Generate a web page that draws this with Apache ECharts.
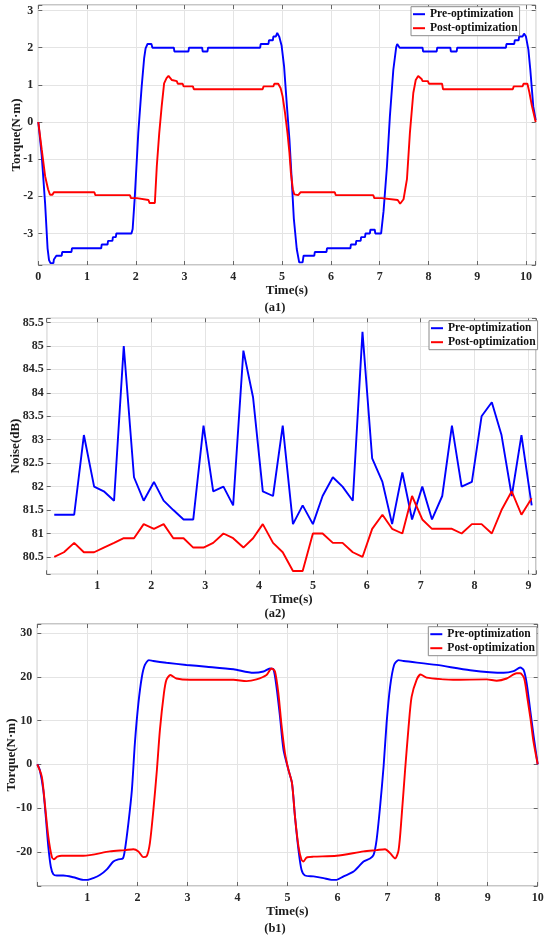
<!DOCTYPE html>
<html><head><meta charset="utf-8">
<script src="https://cdn.jsdelivr.net/npm/echarts@6/dist/echarts.min.js"></script>
<style>html,body{margin:0;padding:0;background:#fff}#c{width:550px;height:939px}</style>
</head><body><div id="c"></div>
<script>
const seriesNames = ['Pre-optimization', 'Post-optimization'];

// (a1) torque, [time, value]
const a1Pre = [[0,0],[0.07,-0.9],[0.14,-2.2],[0.19,-3.4],[0.22,-3.72],[0.25,-3.8],[0.31,-3.8],[0.32,-3.7],[0.36,-3.7],[0.37,-3.6],[0.48,-3.6],[0.49,-3.5],[0.68,-3.5],[0.69,-3.4],[1.29,-3.4],[1.3,-3.3],[1.42,-3.3],[1.43,-3.2],[1.52,-3.2],[1.53,-3.1],[1.59,-3.1],[1.6,-3.0],[1.91,-3.0],[1.935,-2.88],[1.98,-1.99],[2.05,-0.3],[2.12,0.96],[2.17,1.71],[2.2,1.98],[2.24,2.1],[2.32,2.1],[2.34,2.0],[2.78,2.0],[2.79,1.9],[3.08,1.9],[3.09,2.0],[3.36,2.0],[3.37,1.9],[3.47,1.9],[3.48,2.0],[4.55,2.0],[4.56,2.1],[4.72,2.1],[4.73,2.2],[4.81,2.2],[4.82,2.3],[4.87,2.3],[4.9,2.4],[4.94,2.3],[4.99,2.05],[5.04,1.5],[5.1,0.4],[5.15,-0.47],[5.2,-1.63],[5.24,-2.6],[5.3,-3.42],[5.35,-3.78],[5.42,-3.78],[5.44,-3.6],[5.66,-3.6],[5.67,-3.5],[5.91,-3.5],[5.92,-3.4],[6.4,-3.4],[6.41,-3.3],[6.51,-3.3],[6.52,-3.2],[6.61,-3.2],[6.62,-3.1],[6.7,-3.1],[6.71,-3.0],[6.8,-3.0],[6.81,-2.9],[6.9,-2.9],[6.91,-3.0],[7.03,-3.0],[7.08,-2.4],[7.15,-1.19],[7.21,0.15],[7.28,1.4],[7.34,2.02],[7.36,2.1],[7.4,2.1],[7.41,2.0],[7.88,2.0],[7.89,1.9],[8.17,1.9],[8.18,2.0],[8.45,2.0],[8.46,1.9],[8.58,1.9],[8.59,2.0],[9.59,2.0],[9.6,2.1],[9.76,2.1],[9.77,2.2],[9.85,2.2],[9.86,2.3],[9.93,2.3],[9.96,2.38],[10.0,2.3],[10.05,1.95],[10.09,1.4],[10.15,0.42],[10.2,0.05]];
const a1Post = [[0,0],[0.07,-0.74],[0.14,-1.46],[0.2,-1.81],[0.24,-1.96],[0.29,-1.96],[0.32,-1.89],[1.15,-1.89],[1.17,-1.97],[1.88,-1.97],[1.9,-2.05],[2.02,-2.05],[2.04,-2.1],[2.26,-2.1],[2.28,-2.18],[2.39,-2.18],[2.43,-1.19],[2.48,-0.3],[2.53,0.42],[2.58,1.04],[2.63,1.18],[2.67,1.24],[2.74,1.13],[2.76,1.1],[2.84,1.1],[2.86,1.03],[2.96,1.03],[2.98,0.96],[3.17,0.96],[3.19,0.88],[4.6,0.88],[4.62,0.96],[4.82,0.96],[4.84,1.03],[4.92,1.03],[4.97,0.91],[5.01,0.69],[5.06,0.24],[5.11,-0.3],[5.15,-0.83],[5.18,-1.37],[5.22,-1.81],[5.25,-1.95],[5.33,-1.97],[5.38,-1.89],[6.08,-1.89],[6.1,-1.97],[6.87,-1.97],[6.89,-2.05],[7.04,-2.05],[7.06,-2.1],[7.37,-2.1],[7.42,-2.2],[7.49,-2.08],[7.56,-1.54],[7.62,-0.3],[7.69,0.78],[7.74,1.13],[7.79,1.24],[7.86,1.16],[7.88,1.1],[7.99,1.1],[8.01,1.03],[8.28,1.03],[8.3,0.88],[9.73,0.88],[9.75,0.96],[9.93,0.96],[9.95,1.03],[10.03,1.03],[10.07,0.8],[10.12,0.45],[10.2,0]];

// (a2) noise
const noiseTime = [0.2,0.38,0.57,0.75,0.94,1.12,1.31,1.49,1.68,1.86,2.05,2.23,2.41,2.6,2.78,2.97,3.15,3.34,3.52,3.71,3.89,4.07,4.26,4.44,4.63,4.81,5.0,5.18,5.37,5.55,5.74,5.92,6.1,6.29,6.47,6.66,6.84,7.03,7.21,7.4,7.58,7.76,7.95,8.13,8.32,8.5,8.69,8.87,9.06];
const noisePre = [81.4,81.4,81.4,83.1,82.0,81.9,81.7,85.0,82.2,81.7,82.1,81.7,81.5,81.3,81.3,83.3,81.9,82.0,81.6,84.9,83.9,81.9,81.8,83.3,81.2,81.6,81.2,81.8,82.2,82.0,81.7,85.3,82.6,82.1,81.2,82.3,81.3,82.0,81.3,81.8,83.3,82.0,82.1,83.5,83.8,83.1,81.8,83.1,81.6];
const noisePost = [80.5,80.6,80.8,80.6,80.6,80.7,80.8,80.9,80.9,81.2,81.1,81.2,80.9,80.9,80.7,80.7,80.8,81.0,80.9,80.7,80.9,81.2,80.8,80.6,80.2,80.2,81.0,81.0,80.8,80.8,80.6,80.5,81.1,81.4,81.1,81.0,81.8,81.3,81.1,81.1,81.1,81.0,81.2,81.2,81.0,81.5,81.9,81.4,81.75];

// (b1) torque, [time, value]
const b1Pre = [[0,0],[0.05,-1.3],[0.12,-5.9],[0.17,-12],[0.22,-18.8],[0.27,-23.4],[0.32,-25.1],[0.39,-25.4],[0.52,-25.4],[0.72,-25.8],[0.92,-26.4],[1.0,-26.4],[1.12,-26.0],[1.25,-25.3],[1.39,-24.0],[1.52,-22.2],[1.62,-21.7],[1.71,-21.5],[1.75,-19.6],[1.82,-13.5],[1.89,-5.9],[1.95,4.8],[2.02,13.9],[2.09,20],[2.15,22.7],[2.23,23.8],[2.32,23.6],[2.58,23.2],[2.98,22.7],[3.38,22.3],[3.92,21.7],[4.32,20.9],[4.52,21.2],[4.65,21.9],[4.72,21.7],[4.78,17.7],[4.85,10.9],[4.92,3.3],[5.02,-1.3],[5.09,-4.3],[5.15,-12],[5.22,-19.6],[5.28,-24.1],[5.35,-25.4],[5.52,-25.6],[5.72,-26.0],[5.88,-26.4],[5.98,-26.4],[6.12,-25.6],[6.32,-24.5],[6.52,-22.2],[6.65,-21.5],[6.72,-20.7],[6.78,-17.3],[6.85,-9.7],[6.92,-0.5],[6.98,9.4],[7.05,17.7],[7.13,22.7],[7.22,23.8],[7.32,23.6],[7.98,22.7],[8.65,21.5],[9.32,20.9],[9.52,21.3],[9.65,22.1],[9.72,21.5],[9.78,18.5],[9.85,12.4],[9.92,6.3],[10.0,0]];
const b1Post = [[0,0],[0.09,-2.8],[0.15,-8.9],[0.22,-16.5],[0.29,-21.1],[0.33,-21.7],[0.4,-21.1],[0.49,-20.9],[0.92,-20.9],[1.45,-19.9],[1.75,-19.6],[1.92,-19.4],[2.02,-19.9],[2.12,-21.2],[2.19,-20.9],[2.25,-18.0],[2.32,-10.4],[2.39,-1.3],[2.45,7.8],[2.53,16.2],[2.58,19.3],[2.66,20.4],[2.78,19.6],[3.05,19.3],[3.92,19.3],[4.18,19.0],[4.38,19.4],[4.58,20.4],[4.68,21.9],[4.75,21.2],[4.82,16],[4.88,9],[4.95,2.5],[5.02,-1.3],[5.09,-4.3],[5.15,-12],[5.22,-18.8],[5.28,-21.8],[5.32,-22.2],[5.38,-21.3],[5.52,-21.1],[5.98,-20.9],[6.52,-19.9],[6.78,-19.6],[6.95,-19.4],[7.05,-20.3],[7.15,-21.5],[7.22,-19.6],[7.28,-12],[7.35,-1.3],[7.42,8.6],[7.48,15.4],[7.58,19.3],[7.66,20.5],[7.78,19.8],[8.12,19.4],[8.31,19.3],[8.98,19.4],[9.18,19.1],[9.38,19.6],[9.58,20.8],[9.65,20.8],[9.73,19.6],[9.79,15.4],[9.86,10.1],[9.91,5.6],[10.0,0]];

// tick labels
const a1XTicks = [0,1,2,3,4,5,6,7,8,9,10];
const a1YTicks = [-3,-2,-1,0,1,2,3];
const a2XTicks = [1,2,3,4,5,6,7,8,9];
const a2YTicks = [80.5,81,81.5,82,82.5,83,83.5,84,84.5,85,85.5];
const b1XTicks = [1,2,3,4,5,6,7,8,9,10];
const b1YTicks = [-20,-10,0,10,20,30];
const captions = ['(a1)', '(a2)', '(b1)'];
const xName = 'Time(s)';
const yNames = ['Torque(N·m)', 'Noise(dB)', 'Torque(N·m)'];

const FONT = 'Liberation Serif';
const grids = [
  {left: 38.3, top: 5, width: 497.4, height: 260},
  {left: 46.7, top: 318.3, width: 489.3, height: 256},
  {left: 37.3, top: 624, width: 500.4, height: 262}
];
const ranges = [
  {x: [0, 10.2], y: [-3.85, 3.15], xs: 10, ys: 7, xt: a1XTicks, yt: a1YTicks},
  {x: [0.06, 9.14], y: [80.13, 85.59], xs: 9, ys: 11, xt: a2XTicks, yt: a2YTicks},
  {x: [0, 10], y: [-27.8, 32.05], xs: 10, ys: 6, xt: b1XTicks, yt: b1YTicks}
];
const yNamePos = [[16.5, 135], [16, 446], [11.5, 755]];
function fmt(ticks) {
  return v => ticks.some(t => Math.abs(t - v) < 1e-6) ? String(+v.toFixed(2)) : '';
}
const labelStyle = {fontFamily: FONT, fontWeight: 'bold', fontSize: 12, color: '#262626'};
const noLine = {show: false, onZero: false};
const xAxes = [], yAxes = [];
ranges.forEach((r, i) => {
  const tick = {show: true, inside: true, length: 4, lineStyle: {color: '#666', width: 1}};
  const split = {show: true, lineStyle: {color: '#e4e4e4', width: 1}};
  xAxes.push({type: 'value', gridIndex: i, position: 'bottom', min: r.x[0], max: r.x[1], splitNumber: r.xs,
    axisLine: noLine, axisTick: tick, splitLine: split,
    axisLabel: Object.assign({margin: 6, formatter: fmt(r.xt), showMinLabel: true, showMaxLabel: true}, labelStyle),
    name: xName, nameLocation: 'middle', nameGap: 19, nameMoveOverlap: false,
    nameTextStyle: {fontFamily: FONT, fontWeight: 'bold', fontSize: 13, color: '#1a1a1a'}});
  yAxes.push({type: 'value', gridIndex: i, position: 'left', min: r.y[0], max: r.y[1], splitNumber: r.ys,
    axisLine: noLine, axisTick: tick, splitLine: split,
    axisLabel: Object.assign({margin: i === 1 ? 3 : 5, formatter: fmt(r.yt)}, labelStyle)});
});
// mirrored ticks on top / right
ranges.forEach((r, i) => {
  const tick = {show: true, inside: true, length: 4, lineStyle: {color: '#666', width: 1}};
  xAxes.push({type: 'value', gridIndex: i, position: 'top', min: r.x[0], max: r.x[1], splitNumber: r.xs,
    axisLine: noLine, axisTick: tick, splitLine: {show: false}, axisLabel: {show: false}});
  yAxes.push({type: 'value', gridIndex: i, position: 'right', min: r.y[0], max: r.y[1], splitNumber: r.ys,
    axisLine: noLine, axisTick: tick, splitLine: {show: false}, axisLabel: {show: false}});
});

const colors = ['#0000ff', '#ff0000'];
function mk(name, data, gi, color, smooth) {
  return {type: 'line', name, data, xAxisIndex: gi, yAxisIndex: gi, symbol: 'none', smooth: smooth || false,
    lineStyle: {color, width: 1.9}, itemStyle: {color}, animation: false, clip: true};
}
const series = [
  mk(seriesNames[0], a1Pre, 0, colors[0]),
  mk(seriesNames[1], a1Post, 0, colors[1]),
  mk(seriesNames[0], noiseTime.map((t, k) => [t, noisePre[k]]), 1, colors[0]),
  mk(seriesNames[1], noiseTime.map((t, k) => [t, noisePost[k]]), 1, colors[1]),
  mk(seriesNames[0], b1Pre, 2, colors[0], 0.25),
  mk(seriesNames[1], b1Post, 2, colors[1], 0.25)
];
const legendPos = [[411, 6.7], [429, 320.7], [428.3, 626.7]];
const legends = legendPos.map(p => ({
  data: seriesNames, left: p[0], top: p[1], orient: 'vertical', itemGap: 1,
  icon: 'rect', itemWidth: 12, itemHeight: 2, padding: [1, 2, 1, 2],
  borderColor: '#8a8a8a', borderWidth: 1, backgroundColor: '#fff', selectedMode: false,
  textStyle: {fontFamily: FONT, fontWeight: 'bold', fontSize: 11.6, color: '#111', lineHeight: 13}
}));
const capPos = [308, 614, 929];
const graphics = captions.map((c, i) => ({
  type: 'text', left: 'center', top: capPos[i] - 7,
  style: {text: c, font: 'bold 12.5px "' + FONT + '"', fill: '#1a1a1a'}
})).concat(yNames.map((n, i) => ({
  type: 'text', x: yNamePos[i][0], y: yNamePos[i][1], rotation: Math.PI / 2,
  style: {text: n, font: 'bold 13px "' + FONT + '"', fill: '#1a1a1a', align: 'center', verticalAlign: 'middle'}
})));

const chart = echarts.init(document.getElementById('c'), null, {renderer: 'canvas'});
chart.setOption({
  backgroundColor: '#fff',
  animation: false,
  grid: grids.map(g => Object.assign({show: true, borderColor: '#8c8c8c', borderWidth: 1, backgroundColor: 'transparent', containLabel: false, outerBoundsMode: 'none'}, g)),
  xAxis: xAxes,
  yAxis: yAxes,
  legend: legends,
  graphic: graphics,
  series
});
</script></body></html>
